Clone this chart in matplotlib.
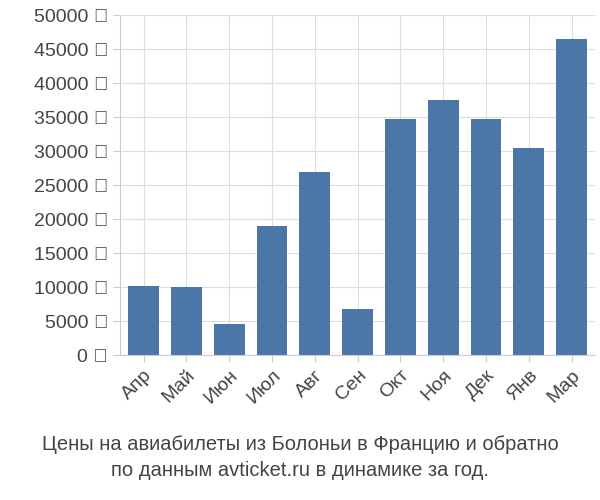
import matplotlib
matplotlib.use('Agg')
import matplotlib.pyplot as plt

months = ['Апр', 'Май', 'Июн', 'Июл', 'Авг', 'Сен', 'Окт', 'Ноя', 'Дек', 'Янв', 'Мар']
prices = [10200, 10000, 4500, 19000, 26900, 6800, 34700, 37500, 34700, 30500, 46400]
yticks = list(range(0, 50001, 5000))

plt.rcParams['font.family'] = 'Liberation Sans'

fig = plt.figure(figsize=(6, 5), dpi=100)
ax = fig.add_axes([0.2, 0.29, 0.792, 0.68])

x = range(len(months))
ax.bar(x, prices, width=0.72, color='#4a76a8', zorder=2)

ax.set_xlim(-0.55, len(months) - 0.45)
ax.set_ylim(0, 50000)
ax.set_yticks(yticks)
ax.set_yticklabels([f'{v} ₽' for v in yticks], fontsize=14, color='#444444')
ax.set_xticks(list(x))
ax.set_xticklabels(months, rotation=45, ha='right', rotation_mode='anchor',
                   fontsize=14, color='#444444')
ax.tick_params(length=5, color='#cccccc')
ax.grid(True, color='#dddddd', linewidth=0.8, zorder=0)
for s in ['top', 'right']:
    ax.spines[s].set_visible(False)
ax.spines['left'].set_color('#cccccc')
ax.spines['bottom'].set_color('#cccccc')

fig.text(0.5, 0.085, 'Цены на авиабилеты из Болоньи в Францию и обратно\nпо данным avticket.ru в динамике за год.',
         ha='center', va='center', fontsize=14.5, color='#444444', linespacing=1.4)

fig.savefig('out.png', dpi=100)
